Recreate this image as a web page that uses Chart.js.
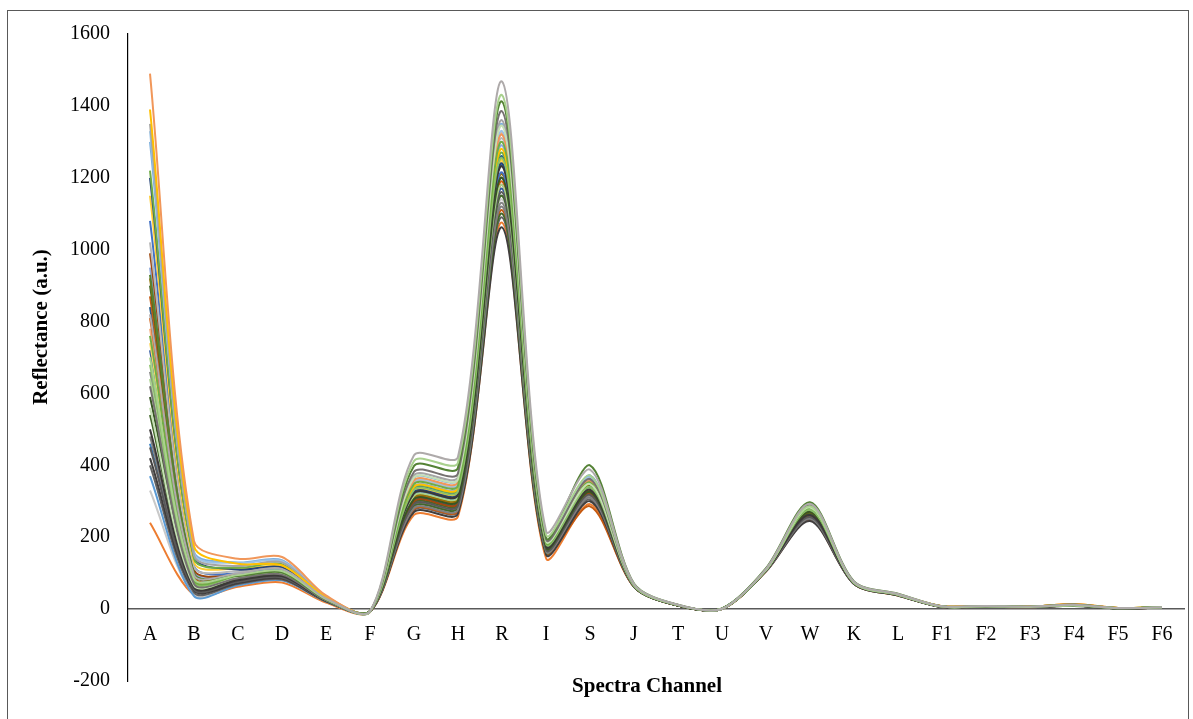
<!DOCTYPE html>
<html>
<head>
<meta charset="utf-8">
<script src="https://cdn.jsdelivr.net/npm/chart.js@4.4.1/dist/chart.umd.min.js"></script>
<style>
  html, body { margin: 0; padding: 0; background: #fff; overflow: hidden; }
  #wrap { position: relative; width: 1193px; height: 719px; }
  #frame { position: absolute; left: 7px; top: 10px; width: 1182px; height: 730px;
           border: 1px solid #595959; box-sizing: border-box; pointer-events: none; }
  canvas { position: absolute; left: 0; top: 0; }
</style>
</head>
<body>
<div id="wrap">
  <canvas id="spectraChart" width="1193" height="719"></canvas>
  <div id="frame"></div>
</div>
<script>
// channels on the x axis
const channels = ["A", "B", "C", "D", "E", "F", "G", "H", "R", "I", "S", "J",
  "T", "U", "V", "W", "K", "L", "F1", "F2", "F3", "F4", "F5", "F6"];

// y axis ticks
const yTicks = [-200, 0, 200, 400, 600, 800, 1000, 1200, 1400, 1600];

// one reflectance spectrum per sample
const s01 = [820, 95, 100, 112, 30, -6, 428, 424, 1468, 218, 388, 70, 12, 1, 112, 293, 76, 42, 8, 9, 7, 12, 3, 5];
const s02 = [700, 85, 95, 106, 28, -7, 412, 408, 1430, 208, 372, 68, 11, 1, 110, 286, 74, 41, 7, 8, 6, 11, 3, 5];
const s03 = [930, 100, 92, 102, 27, -6, 398, 394, 1412, 200, 400, 71, 12, 2, 114, 297, 77, 43, 8, 9, 7, 13, 3, 6];
const s04 = [620, 70, 86, 96, 25, -7, 382, 378, 1385, 195, 362, 67, 11, 1, 111, 289, 75, 41, 7, 8, 6, 12, 2, 5];
const s05 = [560, 66, 88, 99, 26, -7, 366, 362, 1345, 190, 348, 66, 11, 1, 109, 283, 74, 40, 7, 8, 6, 11, 3, 5];
const s06 = [760, 80, 92, 104, 26, -6, 348, 344, 1300, 186, 352, 66, 11, 1, 110, 281, 74, 40, 7, 8, 6, 11, 3, 5];
const s07 = [680, 75, 90, 100, 25, -6, 332, 328, 1255, 182, 340, 65, 11, 1, 109, 276, 73, 40, 7, 8, 6, 11, 2, 5];
const s08 = [500, 60, 80, 92, 24, -7, 322, 318, 1232, 176, 332, 65, 10, 1, 108, 262, 72, 39, 6, 7, 6, 10, 2, 4];
const s09 = [590, 68, 83, 94, 24, -6, 306, 302, 1200, 172, 326, 64, 10, 1, 108, 271, 73, 39, 7, 8, 6, 11, 2, 5];
const s10 = [640, 72, 86, 97, 25, -6, 316, 312, 1180, 174, 334, 65, 11, 1, 109, 279, 73, 40, 7, 8, 6, 11, 3, 5];
const s11 = [450, 55, 76, 88, 23, -7, 292, 288, 1160, 166, 318, 63, 10, 1, 107, 256, 71, 39, 6, 7, 5, 10, 2, 4];
const s12 = [480, 58, 78, 90, 23, -7, 281, 277, 1120, 161, 310, 63, 10, 1, 106, 252, 71, 38, 6, 7, 5, 10, 2, 4];
const s13 = [540, 62, 80, 91, 24, -6, 286, 282, 1100, 160, 342, 64, 10, 1, 107, 263, 72, 39, 7, 7, 6, 10, 2, 5];
const s14 = [420, 52, 72, 85, 22, -7, 270, 266, 1062, 152, 300, 62, 10, 0, 105, 245, 70, 38, 6, 7, 5, 9, 2, 4];
const s15 = [1490, 190, 140, 145, 38, -8, 358, 354, 1320, 192, 356, 66, 11, 1, 110, 277, 74, 40, 8, 9, 7, 14, 3, 5];
const s16 = [1390, 175, 126, 122, 34, -7, 340, 336, 1280, 186, 345, 66, 11, 1, 109, 280, 73, 40, 8, 9, 7, 14, 3, 6];
const s17 = [1350, 150, 120, 130, 33, -7, 372, 368, 1360, 194, 360, 67, 11, 1, 110, 284, 74, 41, 7, 8, 7, 12, 3, 5];
const s18 = [1330, 155, 128, 133, 34, -7, 355, 351, 1330, 190, 366, 67, 11, 1, 111, 287, 75, 41, 7, 8, 6, 12, 3, 5];
const s19 = [1300, 160, 130, 136, 35, -7, 365, 361, 1350, 192, 370, 67, 11, 1, 111, 285, 75, 41, 7, 8, 6, 12, 3, 5];
const s20 = [1220, 140, 115, 125, 32, -6, 338, 334, 1270, 184, 348, 66, 11, 1, 110, 282, 74, 40, 7, 8, 6, 12, 3, 5];
const s21 = [1200, 145, 110, 116, 32, -7, 325, 321, 1240, 180, 338, 65, 11, 1, 109, 278, 73, 40, 7, 8, 6, 11, 2, 5];
const s22 = [1150, 130, 112, 118, 31, -6, 330, 326, 1250, 181, 342, 65, 11, 1, 109, 280, 73, 40, 8, 9, 7, 13, 3, 6];
const s23 = [1020, 118, 105, 112, 30, -6, 350, 346, 1310, 188, 352, 66, 11, 1, 110, 283, 74, 40, 7, 8, 6, 12, 3, 5];
const s24 = [1080, 120, 98, 108, 30, -6, 318, 314, 1215, 177, 335, 65, 11, 1, 109, 276, 73, 40, 7, 8, 6, 11, 2, 5];
const s25 = [990, 110, 95, 110, 29, -6, 300, 296, 1180, 172, 322, 64, 10, 1, 108, 270, 72, 39, 7, 8, 6, 11, 2, 5];
const s26 = [950, 105, 100, 108, 29, -6, 342, 338, 1290, 185, 358, 66, 11, 1, 110, 282, 74, 40, 7, 8, 6, 12, 3, 5];
const s27 = [920, 98, 92, 102, 28, -6, 312, 308, 1210, 176, 330, 65, 10, 1, 108, 274, 73, 39, 7, 8, 6, 11, 2, 5];
const s28 = [900, 96, 90, 100, 28, -6, 296, 292, 1150, 168, 324, 64, 10, 1, 108, 268, 72, 39, 7, 8, 6, 11, 2, 5];
const s29 = [870, 90, 78, 86, 26, -7, 278, 274, 1110, 158, 286, 62, 10, 1, 106, 258, 71, 38, 6, 7, 5, 10, 2, 4];
const s30 = [840, 88, 88, 98, 27, -6, 334, 330, 1260, 182, 362, 66, 11, 1, 110, 280, 74, 40, 7, 8, 6, 12, 3, 5];
const s31 = [810, 86, 84, 94, 26, -6, 308, 304, 1190, 172, 320, 64, 10, 1, 108, 266, 72, 39, 8, 9, 7, 13, 3, 5];
const s32 = [780, 82, 96, 106, 28, -6, 352, 348, 1325, 189, 355, 66, 11, 1, 110, 283, 74, 40, 8, 9, 7, 13, 3, 6];
const s33 = [740, 78, 94, 104, 27, -6, 326, 322, 1245, 180, 344, 65, 11, 1, 109, 279, 73, 40, 8, 9, 7, 13, 3, 6];
const s34 = [720, 76, 88, 98, 26, -6, 302, 298, 1170, 170, 328, 64, 10, 1, 108, 272, 72, 39, 7, 8, 6, 11, 2, 5];
const s35 = [660, 72, 84, 95, 25, -6, 288, 284, 1130, 164, 315, 63, 10, 1, 107, 260, 71, 39, 6, 7, 6, 10, 2, 4];
const s36 = [460, 54, 82, 93, 24, -6, 320, 316, 1235, 178, 368, 66, 11, 1, 110, 284, 74, 40, 7, 8, 6, 11, 2, 5];
const s37 = [400, 46, 70, 82, 22, -7, 276, 272, 1090, 156, 305, 62, 10, 0, 106, 250, 70, 38, 6, 7, 5, 9, 2, 4];
const s38 = [370, 36, 66, 80, 22, -7, 312, 308, 1200, 174, 372, 66, 11, 1, 110, 282, 74, 40, 7, 8, 6, 11, 2, 5];
const s39 = [330, 40, 68, 80, 22, -7, 294, 290, 1140, 165, 318, 63, 10, 1, 107, 262, 71, 39, 6, 7, 5, 10, 2, 4];
const s40 = [240, 40, 62, 74, 18, -8, 262, 258, 1075, 142, 292, 62, 10, 0, 105, 248, 70, 38, 7, 8, 6, 12, 3, 5];

const samples = [s01, s02, s03, s04, s05, s06, s07, s08, s09, s10, s11, s12, s13, s14, s15, s16, s17, s18, s19, s20,
  s21, s22, s23, s24, s25, s26, s27, s28, s29, s30, s31, s32, s33, s34, s35, s36, s37, s38, s39, s40];

// line colours, same order as samples (first ones are drawn on top)
const lineColors = ["#AEAAAA", "#A9D18E", "#548235", "#767171", "#C5E0B4", "#70AD47", "#8CC168", "#3B3838",
  "#385723", "#A9D18E", "#595959", "#7F7F7F", "#43682B", "#403E3E",
  "#F1975A", "#FFC000", "#A5A5A5", "#9DC3E6", "#7CAFDD", "#70AD47", "#264478", "#FFCD33", "#B7B7B7",
  "#4472C4", "#9E480E", "#8FAADC", "#997300", "#43682B", "#C55A11", "#255E91", "#D26012", "#F4B183",
  "#FFD966", "#335AA1", "#848484", "#327DC2", "#636363", "#5B9BD5", "#C9C9C9", "#ED7D31"];

const axisTitles = {
  id: "axisTitles",
  afterDraw(chart) {
    const c = chart.ctx;
    c.save();
    c.fillStyle = "#000";
    c.font = 'bold 21px "Liberation Serif"';
    c.textAlign = "center";
    c.textBaseline = "middle";
    c.fillText("Spectra Channel", 647, 687);
    c.translate(42, 327);
    c.rotate(-Math.PI / 2);
    c.fillText("Reflectance (a.u.)", 0, 0);
    c.restore();
  },
};

const ctx = document.getElementById("spectraChart").getContext("2d");

const data = {
  labels: channels,
  datasets: samples.map((values, i) => ({
    label: "Sample " + (i + 1),
    data: values,
    borderColor: lineColors[i],
    borderWidth: 2,
    pointRadius: 0,
    tension: 0.3,
    fill: false,
  })),
};

const config = {
  type: "line",
  data: data,
  options: {
    responsive: false,
    animation: false,
    layout: {
      padding: { left: 0, top: 34, right: 9, bottom: 38 },
    },
    scales: {
      x: {
        type: "category",
        position: { y: 0 },
        offset: true,
        grid: { display: false, drawTicks: false },
        border: { display: true, color: "#595959", width: 1.5 },
        ticks: {
          color: "#000",
          padding: 14,
          maxRotation: 0,
          autoSkip: false,
          font: { family: "Liberation Serif", size: 20 },
        },
      },
      y: {
        min: yTicks[0],
        max: yTicks[yTicks.length - 1],
        afterFit: (scale) => {
          scale.width = 128;
        },
        afterBuildTicks: (scale) => {
          scale.ticks = yTicks.map((v) => ({ value: v }));
        },
        grid: { display: false, drawTicks: false },
        border: { display: true, color: "#000", width: 1.2 },
        ticks: {
          color: "#000",
          padding: 18,
          font: { family: "Liberation Serif", size: 20 },
          callback: (value) => String(value),
        },
      },
    },
    plugins: {
      legend: { display: false },
      tooltip: { enabled: false },
    },
  },
  plugins: [axisTitles],
};

const spectraChart = new Chart(ctx, config);
</script>
</body>
</html>
